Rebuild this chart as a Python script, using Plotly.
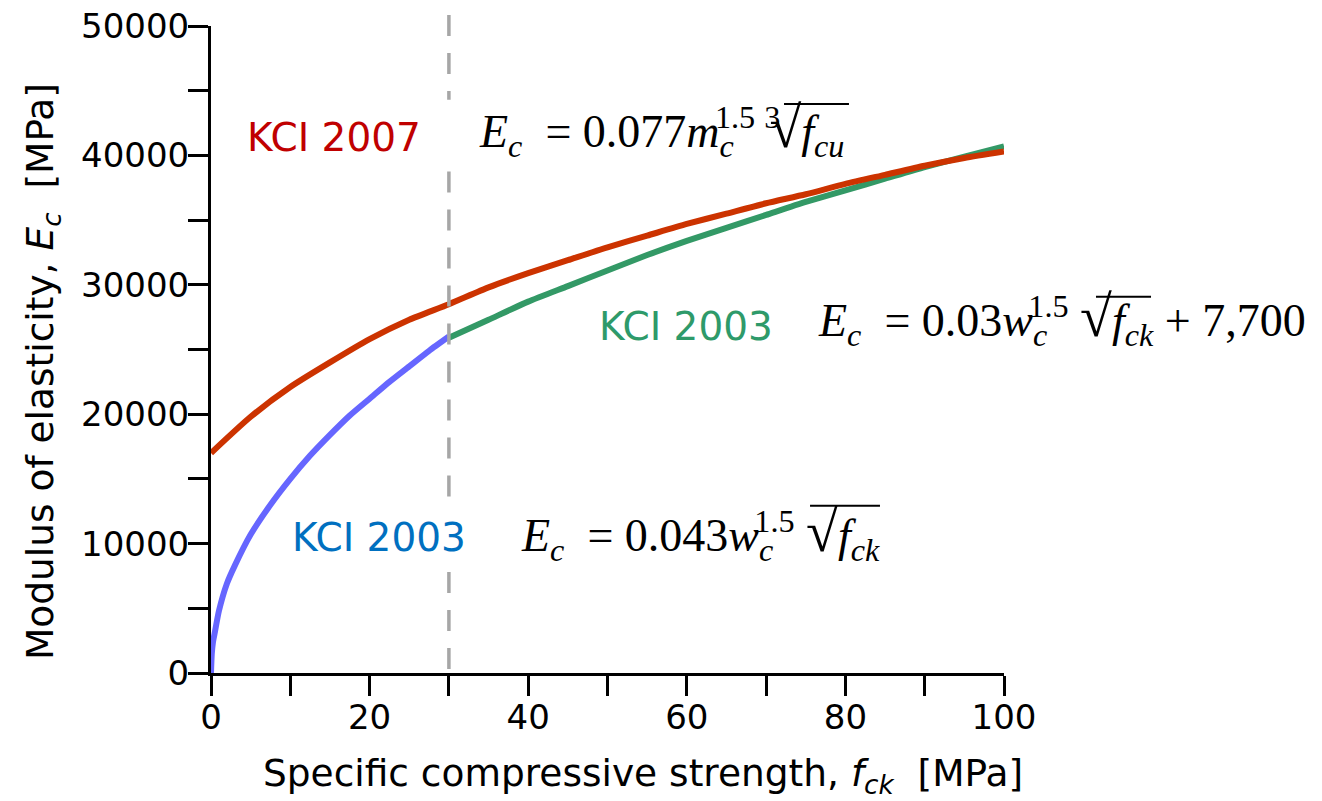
import plotly.graph_objects as go

# ---- data ----
fck_2003a = [0, 0.1, 0.25, 0.5, 1, 2, 3, 5, 7.5, 10, 12.5, 15, 17.5, 20, 22.5, 25, 27.5, 30]
ec_2003a = [0, 1500, 2400, 3200, 4800, 6900, 8300, 10700, 13000, 15000, 16800, 18400, 19900,
            21200, 22500, 23700, 24900, 26000]

fck_2003b = [30, 35, 40, 45, 50, 55, 60, 65, 70, 75, 80, 85, 90, 95, 100]
ec_2003b = [25900, 27300, 28700, 29900, 31100, 32300, 33400, 34400, 35400, 36400,
            37300, 38200, 39100, 39900, 40700]

fck_2007 = [0, 5, 10, 15, 20, 25, 30, 35, 40, 45, 50, 55, 60, 65, 70, 75, 80, 85, 90, 95, 100]
ec_2007 = [17000, 19800, 22100, 24000, 25800, 27300, 28500, 29800, 30900, 31900, 32900,
           33800, 34700, 35500, 36300, 37000, 37800, 38500, 39200, 39800, 40300]

x_ticks = [0, 20, 40, 60, 80, 100]
y_ticks = [0, 10000, 20000, 30000, 40000, 50000]
boundary_fck = 30

# ---- styles ----
RED = "#CC3300"
GREEN = "#339966"
BLUE = "#6666FF"
SANS = "DejaVu Sans"
SERIF = "Liberation Serif"

fig = go.Figure()
fig.add_trace(go.Scatter(x=fck_2003a, y=ec_2003a, mode="lines",
                         line=dict(color=BLUE, width=6, shape="spline", smoothing=0.6),
                         showlegend=False))
fig.add_trace(go.Scatter(x=fck_2003b, y=ec_2003b, mode="lines",
                         line=dict(color=GREEN, width=6, shape="spline", smoothing=0.6),
                         showlegend=False))
fig.add_trace(go.Scatter(x=fck_2007, y=ec_2007, mode="lines",
                         line=dict(color=RED, width=6, shape="spline", smoothing=0.6),
                         showlegend=False))

# dashed boundary line (interrupted where the equation boxes cover it)
for y0, y1 in [(1.017, 0.886), (0.775, 0.268), (0.156, 0.0)]:
    fig.add_shape(type="line", xref="x", yref="y domain",
                  x0=boundary_fck, x1=boundary_fck, y0=y0, y1=y1,
                  line=dict(color="#A6A6A6", width=3.5, dash="21px,17px"),
                  layer="above")

ann_font = dict(family=SANS, size=39)
fig.add_annotation(x=4.3, y=41400, text="KCI 2007", showarrow=False,
                   xanchor="left", yanchor="middle", font=dict(ann_font, color="#C00000"))
fig.add_annotation(x=10.0, y=10500, text="KCI 2003", showarrow=False,
                   xanchor="left", yanchor="middle", font=dict(ann_font, color="#0070C0"))
fig.add_annotation(x=48.7, y=26750, text="KCI 2003", showarrow=False,
                   xanchor="left", yanchor="middle", font=dict(ann_font, color="#2E9A6A"))

BACK = "letter-spacing:-19px"
ROOT = "<span style='font-size:58px'>√</span>"
EQ = "&#8194;= "
SUBC = "<sub><i><span style='" + BACK + "'>c</span></i></sub><sup>1.5</sup>"
eq1 = ("<i>E</i><sub><i>c</i></sub>" + EQ + "0.077<i>m</i>" + SUBC +
       "&#8201;<sup><span style='letter-spacing:-11px'>3</span></sup>" + ROOT +
       "<i>f</i><sub><i>cu</i></sub>")
eq2 = ("<i>E</i><sub><i>c</i></sub>" + EQ + "0.03<i>w</i>" + SUBC +
       " " + ROOT + "<i>f</i><sub><i>ck</i></sub> + 7,700")
eq3 = ("<i>E</i><sub><i>c</i></sub>" + EQ + "0.043<i>w</i>" + SUBC +
       " " + ROOT + "<i>f</i><sub><i>ck</i></sub>")
eq_font = dict(family=SERIF, size=46, color="black")
fig.add_annotation(x=33.5, y=42000, text=eq1, showarrow=False, xanchor="left",
                   yanchor="middle", font=eq_font)
fig.add_annotation(x=76.3, y=27400, text=eq2, showarrow=False, xanchor="left",
                   yanchor="middle", font=eq_font)
fig.add_annotation(x=38.8, y=10800, text=eq3, showarrow=False, xanchor="left",
                   yanchor="middle", font=eq_font)

# vinculum bars of the radicals (paper coordinates)
for xa, xb, yy in [(0.7226, 0.8045, 0.8795), (1.1160, 1.1854, 0.5815), (0.7554, 0.8436, 0.2585)]:
    fig.add_shape(type="line", xref="paper", yref="paper", x0=xa, x1=xb, y0=yy, y1=yy,
                  line=dict(color="black", width=2))

# axis titles
fig.add_annotation(xref="paper", yref="paper", x=-0.2131, y=0.4652, textangle=-90,
                   text="Modulus of elasticity, <i>E</i><sub><i>c</i></sub>&#160; [MPa]",
                   showarrow=False, xanchor="center", yanchor="middle",
                   font=dict(family=SANS, size=37.5, color="black"))
fig.add_annotation(xref="paper", yref="paper", x=0.5448, y=-0.1577,
                   text="Specific compressive strength, <i>f</i><sub><i>ck</i></sub>&#160; [MPa]",
                   showarrow=False, xanchor="center", yanchor="middle",
                   font=dict(family=SANS, size=37.5, color="black"))

axis_common = dict(showline=True, linecolor="black", linewidth=3, mirror=False,
                   ticks="outside", tickcolor="black", tickwidth=3, ticklen=12,
                   showgrid=False, zeroline=False,
                   tickfont=dict(family=SANS, size=34, color="black"))

fig.update_xaxes(range=[0, 100], tickvals=x_ticks, ticktext=[str(v) for v in x_ticks],
                 minor=dict(dtick=10, ticklen=20, tickwidth=3, tickcolor="black", ticks="outside"),
                 **axis_common)
fig.update_yaxes(range=[0, 50000], tickvals=y_ticks, ticktext=[str(v) for v in y_ticks],
                 minor=dict(dtick=5000, ticklen=20, tickwidth=3, tickcolor="black", ticks="outside"),
                 **axis_common)

fig.update_layout(width=1322, height=801, margin=dict(l=211, r=318, t=26, b=128, autoexpand=False),
                  paper_bgcolor="white", plot_bgcolor="white")

fig.write_html("out.html")
